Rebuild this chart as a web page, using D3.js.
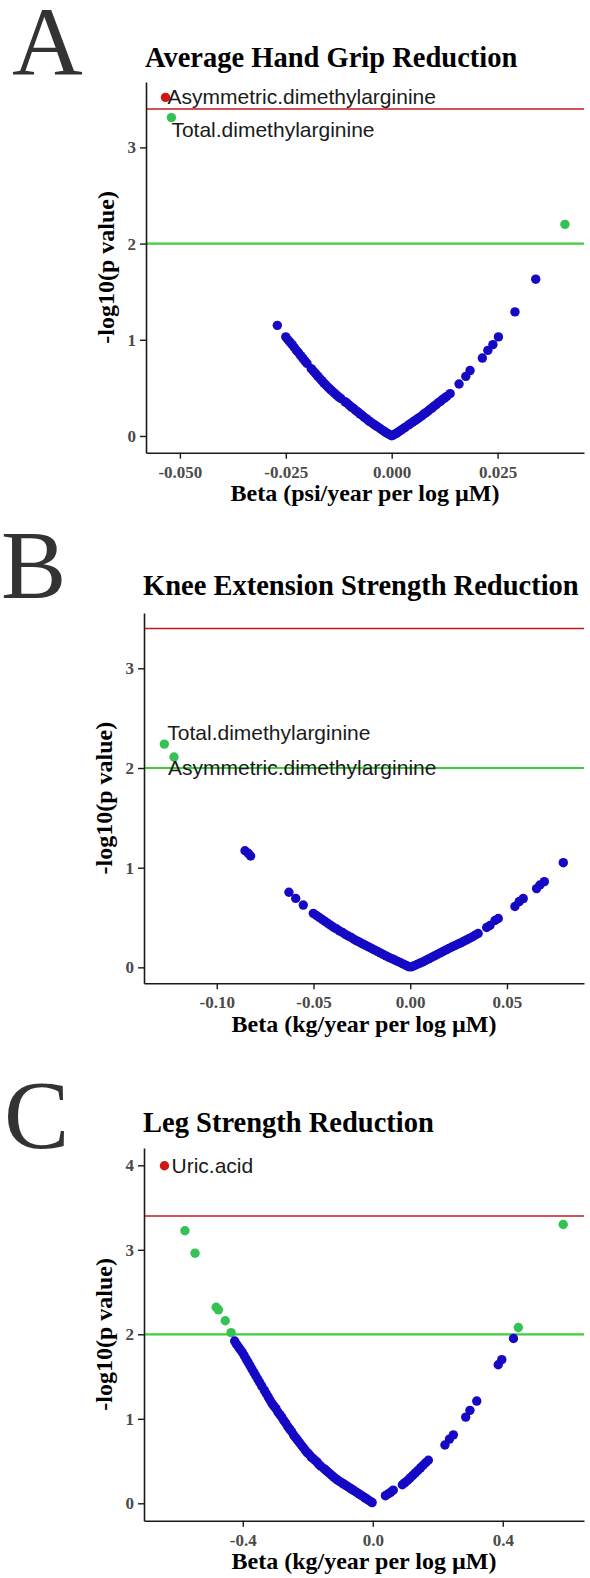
<!DOCTYPE html>
<html>
<head>
<meta charset="utf-8">
<script src="https://cdn.jsdelivr.net/npm/d3@7"></script>
<style>
  body { margin: 0; background: #fff; }
  svg { display: block; }
</style>
</head>
<body>
<div id="figure"></div>
<script>
// ---- values ----
const panelLetters = ["A", "B", "C"];
const panelTitles = ["Average Hand Grip Reduction", "Knee Extension Strength Reduction", "Leg Strength Reduction"];
const xAxisTitles = ["Beta (psi/year per log µM)", "Beta (kg/year per log µM)", "Beta (kg/year per log µM)"];
const yAxisTitle = "-log10(p value)";

const xTicksA = [-0.05, -0.025, 0, 0.025];
const xTickLabelsA = ["-0.050", "-0.025", "0.000", "0.025"];
const xTicksB = [-0.1, -0.05, 0, 0.05];
const xTickLabelsB = ["-0.10", "-0.05", "0.00", "0.05"];
const xTicksC = [-0.4, 0, 0.4];
const xTickLabelsC = ["-0.4", "0.0", "0.4"];
const yTicksA = [0, 1, 2, 3];
const yTicksB = [0, 1, 2, 3];
const yTicksC = [0, 1, 2, 3, 4];

// significance cut-offs (-log10 p)
const redCutoff = 3.4;
const greenCutoff = 2;

// [beta, -log10 p]  -- hand grip
const handGrip = [
  [0.0409, 2.20],
  [0.0340, 1.63], [0.0291, 1.29], [0.0252, 1.03], [0.0239, 0.95], [0.0227, 0.89], [0.0214, 0.81],
  [0.0185, 0.68], [0.0175, 0.62], [0.0159, 0.54], [0.0138, 0.44], [0.0130, 0.41],
  [0.0125, 0.395], [0.0120, 0.38], [0.0115, 0.36], [0.0110, 0.345], [0.0105, 0.325], [0.0100, 0.31],
  [0.0095, 0.29], [0.0090, 0.275], [0.0085, 0.255], [0.0080, 0.24], [0.0075, 0.225], [0.0070, 0.205],
  [0.0065, 0.19], [0.0060, 0.175], [0.0055, 0.16], [0.0050, 0.145], [0.0045, 0.13], [0.0040, 0.115],
  [0.0032, 0.09], [0.0027, 0.075], [0.0022, 0.06], [0.0017, 0.045], [0.0012, 0.03], [0.0007, 0.018], [0.0003, 0.008],
  [-0.0270, 1.15], [-0.0250, 1.03], [-0.0245, 1.00], [-0.0240, 0.975], [-0.0235, 0.95], [-0.0230, 0.92],
  [-0.0225, 0.89], [-0.0220, 0.865], [-0.0215, 0.835], [-0.0210, 0.81], [-0.0205, 0.78], [-0.0200, 0.755],
  [-0.0190, 0.70], [-0.0185, 0.675], [-0.0180, 0.65], [-0.0175, 0.625], [-0.0170, 0.60], [-0.0165, 0.575],
  [-0.0160, 0.55], [-0.0155, 0.53], [-0.0150, 0.505], [-0.0145, 0.485], [-0.0140, 0.465], [-0.0135, 0.445],
  [-0.0130, 0.425], [-0.0125, 0.405], [-0.0120, 0.39], [-0.0110, 0.355], [-0.0105, 0.34], [-0.0100, 0.32],
  [-0.0095, 0.30], [-0.0090, 0.285], [-0.0085, 0.265], [-0.0080, 0.25], [-0.0075, 0.23], [-0.0070, 0.215],
  [-0.0065, 0.195], [-0.0060, 0.18], [-0.0055, 0.16], [-0.0050, 0.145], [-0.0045, 0.13], [-0.0040, 0.115],
  [-0.0035, 0.10], [-0.0030, 0.085], [-0.0025, 0.07], [-0.0020, 0.055], [-0.0015, 0.04], [-0.0010, 0.027],
  [-0.0005, 0.013], [0.0000, 0.002]
];
const handGripNamed = [
  ["Asymmetric.dimethylarginine", -0.0534, 3.52],
  ["Total.dimethylarginine", -0.0520, 3.31]
];

// knee extension
const kneeExt = [
  [-0.0854, 1.17], [-0.0837, 1.144], [-0.0825, 1.117],
  [-0.0627, 0.753], [-0.0592, 0.692], [-0.0553, 0.625],
  [-0.0501, 0.542], [-0.0485, 0.52], [-0.0470, 0.50], [-0.0455, 0.48], [-0.0440, 0.46], [-0.0425, 0.44],
  [-0.0410, 0.42], [-0.0395, 0.40], [-0.0380, 0.385], [-0.0365, 0.365], [-0.0350, 0.35], [-0.0335, 0.33],
  [-0.0320, 0.315], [-0.0305, 0.30], [-0.0290, 0.28], [-0.0275, 0.265], [-0.0260, 0.25], [-0.0245, 0.235],
  [-0.0230, 0.22], [-0.0215, 0.205], [-0.0200, 0.19], [-0.0185, 0.175], [-0.0170, 0.16], [-0.0155, 0.145],
  [-0.0140, 0.13], [-0.0125, 0.115], [-0.0110, 0.10], [-0.0095, 0.088], [-0.0080, 0.074], [-0.0065, 0.06],
  [-0.0050, 0.046], [-0.0035, 0.032], [-0.0020, 0.018], [-0.0005, 0.005],
  [0.0791, 1.05], [0.0693, 0.86], [0.0670, 0.826], [0.0653, 0.79], [0.0584, 0.69], [0.0563, 0.66],
  [0.0541, 0.61], [0.0455, 0.49], [0.0438, 0.47], [0.0412, 0.42], [0.0395, 0.40],
  [0.0351, 0.34], [0.0335, 0.322], [0.0320, 0.305], [0.0305, 0.29], [0.0290, 0.275], [0.0275, 0.26],
  [0.0260, 0.245], [0.0245, 0.232], [0.0230, 0.218], [0.0215, 0.204], [0.0200, 0.19], [0.0185, 0.175],
  [0.0170, 0.16], [0.0155, 0.145], [0.0140, 0.13], [0.0125, 0.115], [0.0110, 0.10], [0.0095, 0.085],
  [0.0080, 0.07], [0.0065, 0.055], [0.0050, 0.042], [0.0035, 0.029], [0.0020, 0.016], [0.0008, 0.006]
];
const kneeExtNamed = [
  ["Total.dimethylarginine", -0.1271, 2.24],
  ["Asymmetric.dimethylarginine", -0.1221, 2.11]
];

// leg strength
const legStrength = [
  [-0.578, 3.226], [-0.547, 2.96], [-0.482, 2.32], [-0.475, 2.29], [-0.454, 2.16], [-0.436, 2.02],
  [0.448, 2.08], [0.586, 3.30],
  [0.433, 1.95], [0.397, 1.70], [0.386, 1.64], [0.320, 1.21], [0.299, 1.10], [0.286, 1.02],
  [0.248, 0.81], [0.236, 0.76], [0.222, 0.69],
  [0.171, 0.51], [0.163, 0.48], [0.155, 0.45], [0.147, 0.42], [0.139, 0.39], [0.131, 0.36],
  [0.123, 0.33], [0.115, 0.30], [0.107, 0.27], [0.099, 0.245], [0.091, 0.22],
  [0.063, 0.155], [0.055, 0.13], [0.047, 0.11], [0.039, 0.09],
  [-0.425, 1.92], [-0.419, 1.88], [-0.413, 1.85], [-0.408, 1.82], [-0.402, 1.79], [-0.396, 1.75],
  [-0.390, 1.71], [-0.384, 1.67], [-0.378, 1.63], [-0.372, 1.59], [-0.366, 1.55], [-0.360, 1.51],
  [-0.354, 1.47], [-0.348, 1.43], [-0.342, 1.39],
  [-0.334, 1.34], [-0.328, 1.30], [-0.322, 1.26], [-0.316, 1.22], [-0.310, 1.18], [-0.304, 1.15],
  [-0.298, 1.12], [-0.292, 1.08], [-0.286, 1.05], [-0.280, 1.02], [-0.274, 0.98], [-0.268, 0.95],
  [-0.262, 0.91], [-0.256, 0.88], [-0.250, 0.85], [-0.244, 0.81], [-0.238, 0.78], [-0.232, 0.75],
  [-0.226, 0.72], [-0.220, 0.69], [-0.214, 0.66], [-0.208, 0.63], [-0.202, 0.60], [-0.196, 0.58],
  [-0.190, 0.55], [-0.184, 0.53], [-0.178, 0.51], [-0.172, 0.49], [-0.166, 0.46], [-0.160, 0.44],
  [-0.150, 0.41], [-0.144, 0.39], [-0.138, 0.37], [-0.132, 0.35], [-0.126, 0.33], [-0.120, 0.31],
  [-0.114, 0.29], [-0.108, 0.275], [-0.102, 0.26], [-0.096, 0.245], [-0.090, 0.23], [-0.084, 0.215],
  [-0.078, 0.20], [-0.072, 0.185], [-0.066, 0.17], [-0.060, 0.155], [-0.054, 0.14], [-0.048, 0.125],
  [-0.042, 0.11], [-0.036, 0.095], [-0.030, 0.08], [-0.024, 0.065], [-0.018, 0.05], [-0.012, 0.035],
  [-0.006, 0.02], [-0.002, 0.008]
];
const legStrengthNamed = [
  ["Uric.acid", -0.641, 3.995]
];

// ---- layout ----
const width = 590, height = 1578;
const serif = "'Liberation Serif', 'Times New Roman', serif";
const sans = "'Liberation Sans', Arial, sans-serif";
const colRed = "#cf1515", colGreen = "#35c254", colBlue = "#1609c4";
const dotR = 4.7;

const svg = d3.select("#figure").append("svg")
  .attr("width", width)
  .attr("height", height);

svg.append("rect").attr("width", width).attr("height", height).attr("fill", "#fff");

// pixel box + value window of each panel
const panels = [
  {letter: panelLetters[0], title: panelTitles[0], xTitle: xAxisTitles[0],
   pts: handGrip, named: handGripNamed,
   xTicks: xTicksA, xTickLabels: xTickLabelsA, yTicks: yTicksA,
   xDomain: [-0.058, 0.0454], yDomain: [-0.174, 3.68],
   left: 146, right: 584, top: 82, bottom: 452.7,
   letterX: 12, letterY: 74, titleY: 67, yTitleX: 114,
   nudges: [[2, 7], [0, 19]]},
  {letter: panelLetters[1], title: panelTitles[1], xTitle: xAxisTitles[1],
   pts: kneeExt, named: kneeExtNamed,
   xTicks: xTicksB, xTickLabels: xTickLabelsB, yTicks: yTicksB,
   xDomain: [-0.1376, 0.0898], yDomain: [-0.16, 3.555],
   left: 144, right: 584, top: 613, bottom: 983.3,
   letterX: 1, letterY: 598, titleY: 595, yTitleX: 112,
   nudges: [[3, -4], [-6, 18]]},
  {letter: panelLetters[2], title: panelTitles[2], xTitle: xAxisTitles[2],
   pts: legStrength, named: legStrengthNamed,
   xTicks: xTicksC, xTickLabels: xTickLabelsC, yTicks: yTicksC,
   xDomain: [-0.704, 0.650], yDomain: [-0.206, 4.205],
   left: 144, right: 584, top: 1148, bottom: 1520.7,
   letterX: 4, letterY: 1148, titleY: 1132, yTitleX: 112,
   nudges: [[7, 7]]}
];

function pointColour(p) {
  if (p > redCutoff) return colRed;
  if (p > greenCutoff) return colGreen;
  return colBlue;
}

panels.forEach(function(cfg) {
  const x = d3.scaleLinear().domain(cfg.xDomain).range([cfg.left, cfg.right]);
  const y = d3.scaleLinear().domain(cfg.yDomain).range([cfg.bottom, cfg.top]);

  // big panel letter
  svg.append("text")
    .attr("x", cfg.letterX).attr("y", cfg.letterY)
    .attr("font-family", serif).attr("font-size", 98)
    .attr("fill", "#333")
    .text(cfg.letter);

  // title
  svg.append("text")
    .attr("x", cfg.left - 1).attr("y", cfg.titleY)
    .attr("font-family", serif).attr("font-weight", "bold").attr("font-size", 28.5)
    .attr("fill", "#000")
    .text(cfg.title);

  // threshold lines
  svg.append("line")
    .attr("x1", cfg.left).attr("x2", cfg.right)
    .attr("y1", y(redCutoff)).attr("y2", y(redCutoff))
    .attr("stroke", "#c81818").attr("stroke-width", 1.6);

  svg.append("line")
    .attr("x1", cfg.left).attr("x2", cfg.right)
    .attr("y1", y(greenCutoff)).attr("y2", y(greenCutoff))
    .attr("stroke", "#3ccf3c").attr("stroke-width", 2.2);

  // axes
  const xAxis = svg.append("g")
    .attr("transform", `translate(0,${cfg.bottom})`)
    .call(d3.axisBottom(x).tickValues(cfg.xTicks)
      .tickFormat((d, i) => cfg.xTickLabels[i])
      .tickSize(6).tickPadding(7).tickSizeOuter(0));

  const yAxis = svg.append("g")
    .attr("transform", `translate(${cfg.left},0)`)
    .call(d3.axisLeft(y).tickValues(cfg.yTicks)
      .tickFormat(d3.format("d"))
      .tickSize(6).tickPadding(4).tickSizeOuter(0));

  [xAxis, yAxis].forEach(function(ax) {
    ax.select(".domain").attr("stroke", "#1a1a1a").attr("stroke-width", 1.6);
    ax.selectAll(".tick line").attr("stroke", "#1a1a1a").attr("stroke-width", 1.4);
    ax.selectAll(".tick text")
      .attr("font-family", serif).attr("font-weight", "bold").attr("font-size", 17)
      .attr("fill", "#4a4a4a");
  });

  // axis titles
  svg.append("text")
    .attr("x", (cfg.left + cfg.right) / 2).attr("y", cfg.bottom + 48.5)
    .attr("text-anchor", "middle")
    .attr("font-family", serif).attr("font-weight", "bold").attr("font-size", 24)
    .attr("fill", "#000")
    .text(cfg.xTitle);

  svg.append("text")
    .attr("transform", `translate(${cfg.yTitleX},${(cfg.top + cfg.bottom) / 2}) rotate(-90)`)
    .attr("text-anchor", "middle")
    .attr("font-family", serif).attr("font-weight", "bold").attr("font-size", 24)
    .attr("fill", "#000")
    .text(yAxisTitle);

  // points
  svg.append("g").selectAll("circle")
    .data(cfg.pts)
    .enter()
    .append("circle")
    .attr("cx", d => x(d[0]))
    .attr("cy", d => y(d[1]))
    .attr("r", dotR)
    .attr("fill", d => pointColour(d[1]));

  // labelled points
  cfg.named.forEach(function(d, i) {
    svg.append("circle")
      .attr("cx", x(d[1])).attr("cy", y(d[2]))
      .attr("r", dotR)
      .attr("fill", pointColour(d[2]));

    svg.append("text")
      .attr("x", x(d[1]) + cfg.nudges[i][0])
      .attr("y", y(d[2]) + cfg.nudges[i][1])
      .attr("font-family", sans).attr("font-size", 21)
      .attr("fill", "#1a1a1a")
      .text(d[0]);
  });
});
</script>
</body>
</html>
